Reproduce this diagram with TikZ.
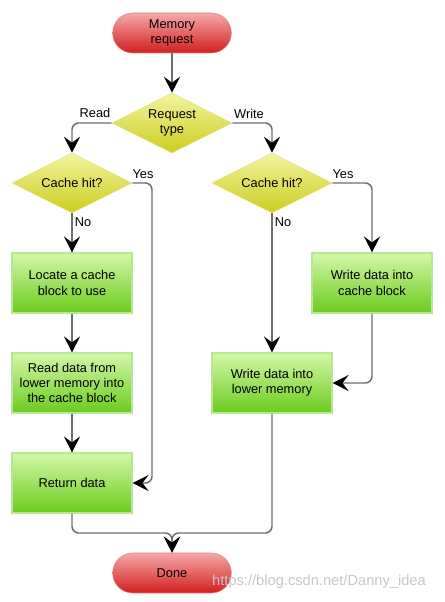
\documentclass[tikz,border=0pt]{standalone}
\usepackage{fontspec}
\setmainfont{Liberation Sans}
\usetikzlibrary{shapes.geometric, arrows.meta}

\definecolor{pilltop}{HTML}{F6A8A8}
\definecolor{pillbot}{HTML}{D21E1E}
\definecolor{pillrim}{HTML}{E08080}
\definecolor{boxtop}{HTML}{D2F8A8}
\definecolor{boxbot}{HTML}{6CCB1C}
\definecolor{boxrim}{HTML}{B8E698}
\definecolor{dtop}{HTML}{F4F4A0}
\definecolor{dbot}{HTML}{CCCC1E}
\definecolor{drim}{HTML}{E2E27A}
\definecolor{wire}{HTML}{6E6E6E}

\begin{document}
\begin{tikzpicture}[
  x=0.75pt, y=-0.75pt,
  every node/.style={font=\fontsize{9.6}{11.5}\selectfont, align=center},
  terminal/.style={draw=pillrim, top color=pilltop, bottom color=pillbot,
    rounded corners=15pt, minimum width=89pt, minimum height=30pt, inner sep=0pt},
  process/.style={draw=boxrim, line width=0.8pt, top color=boxtop, bottom color=boxbot,
    minimum width=90pt, minimum height=45pt, inner sep=0pt},
  decision/.style={diamond, aspect=2, draw=drim, top color=dtop, bottom color=dbot,
    minimum width=90pt, minimum height=45pt, inner sep=0pt},
  tag/.style={inner sep=1pt},
  flow/.style={draw=wire, line width=1.1pt, rounded corners=5pt,
    -{Stealth[length=12pt, width=12pt, inset=4.5pt, black]}}
]
\useasboundingbox (0,0) rectangle (445,602);

% nodes
\node[terminal] (start) at (172,33) {Memory\\request};
\node[decision] (kind) at (172,123) {Request\\type};
\node[decision] (hitR) at (72,183) {Cache hit?};
\node[decision] (hitW) at (272,183) {Cache hit?};
\node[process] (locate) at (72,283) {Locate a cache\\block to use};
\node[process] (fetch) at (72,383) {Read data from\\lower memory into\\the cache block};
\node[process] (give) at (72,483) {Return data};
\node[process] (wcache) at (372,283) {Write data into\\cache block};
\node[process] (wlower) at (272,383) {Write data into\\lower memory};
\node[terminal] (done) at (172,573) {Done};

% labels
\node[tag] (lread) at (95,113) {Read};
\node[tag] (lwrite) at (249,114) {Write};
\node[tag] (lyesR) at (143,174) {Yes};
\node[tag] (lyesW) at (343,174) {Yes};
\node[tag] (lnoR) at (83,222) {No};
\node[tag] (lnoW) at (283,222) {No};

% connectors
\draw[flow] (start) -- (kind);
\draw[flow] (kind.west) -| (hitR.north);
\draw[flow] (kind.east) -| (hitW.north);
\draw[flow] (hitR.south) -- (locate);
\draw[flow] (locate) -- (fetch);
\draw[flow] (fetch) -- (give);
\draw[flow] (hitR.east) -- (152,183) |- (give.east);
\draw[flow] (hitW.east) -| (wcache.north);
\draw[flow] (hitW.south) -- (wlower.north);
\draw[flow] (wcache.south) |- (wlower.east);
\draw[flow] (give.south) |- (172,533) -- (done.north);
\draw[flow] (wlower.south) |- (172,533) -- (done.north);

\node[text=black!22, font=\fontsize{11}{13}\selectfont] (mark) at (319,582) {https://blog.csdn.net/Danny\_idea};
\end{tikzpicture}
\end{document}
